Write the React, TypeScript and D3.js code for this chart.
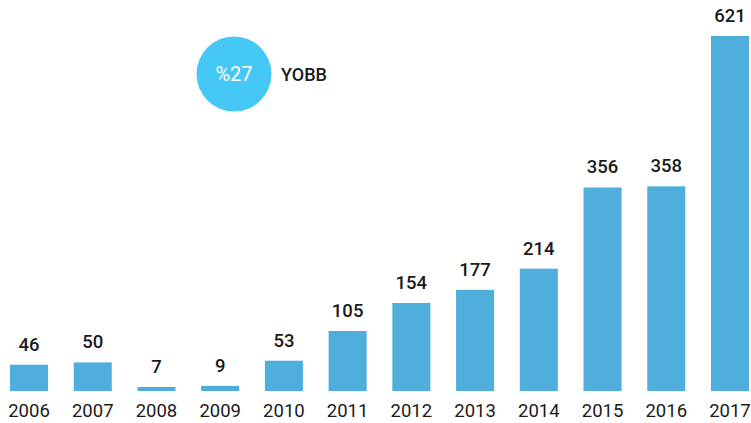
import React, { useRef, useEffect } from 'react';
import * as d3 from 'd3';

const years = ['2006', '2007', '2008', '2009', '2010', '2011', '2012', '2013', '2014', '2015', '2016', '2017'];
const values = [46, 50, 7, 9, 53, 105, 154, 177, 214, 356, 358, 621];
const badgeText = '%27';
const badgeLabel = 'YOBB';

const width = 751;
const height = 423;

const App = () => {
  const svgRef = useRef<SVGSVGElement>(null);

  useEffect(() => {
    const svg = d3.select(svgRef.current);
    svg.selectAll('*').remove();

    const font = 'Roboto, "DejaVu Sans", sans-serif';

    const x = d3.scaleBand<string>()
      .domain(years)
      .range([10, 749])
      .paddingInner(0.403)
      .paddingOuter(0);

    const y = d3.scaleLinear()
      .domain([0, 621])
      .range([391, 36]);

    const data = years.map((yr, i) => ({ yr, v: values[i] }));

    // bars
    svg.append('g')
      .selectAll('rect')
      .data(data)
      .enter()
      .append('rect')
      .attr('x', d => x(d.yr)!)
      .attr('y', d => y(d.v))
      .attr('width', x.bandwidth())
      .attr('height', d => y(0) - y(d.v))
      .attr('fill', '#4FAEDC');

    // value labels
    svg.append('g')
      .selectAll('text')
      .data(data)
      .enter()
      .append('text')
      .attr('x', d => x(d.yr)! + x.bandwidth() / 2)
      .attr('y', d => y(d.v) - 14)
      .attr('text-anchor', 'middle')
      .attr('font-family', font)
      .attr('font-size', 18.5)
      .attr('font-weight', 500)
      .attr('fill', '#1a1a1a')
      .text(d => d.v);

    // year labels
    svg.append('g')
      .selectAll('text')
      .data(years)
      .enter()
      .append('text')
      .attr('x', d => x(d)! + x.bandwidth() / 2)
      .attr('y', 417)
      .attr('text-anchor', 'middle')
      .attr('font-family', font)
      .attr('font-size', 18.5)
      .attr('fill', '#1a1a1a')
      .text(d => d);

    // badge
    svg.append('circle')
      .attr('cx', 234)
      .attr('cy', 74)
      .attr('r', 37.5)
      .attr('fill', '#45C8F5');

    svg.append('text')
      .attr('x', 234)
      .attr('y', 81)
      .attr('text-anchor', 'middle')
      .attr('font-family', font)
      .attr('font-size', 20)
      .attr('fill', '#ffffff')
      .text(badgeText);

    svg.append('text')
      .attr('x', 281)
      .attr('y', 81)
      .attr('font-family', font)
      .attr('font-size', 18)
      .attr('font-weight', 500)
      .attr('fill', '#1a1a1a')
      .text(badgeLabel);
  }, []);

  return (
    <div style={{ position: 'absolute', left: 0, top: 0 }}>
      <svg ref={svgRef} width={width} height={height} style={{ display: 'block' }}></svg>
    </div>
  );
};

export default App;
